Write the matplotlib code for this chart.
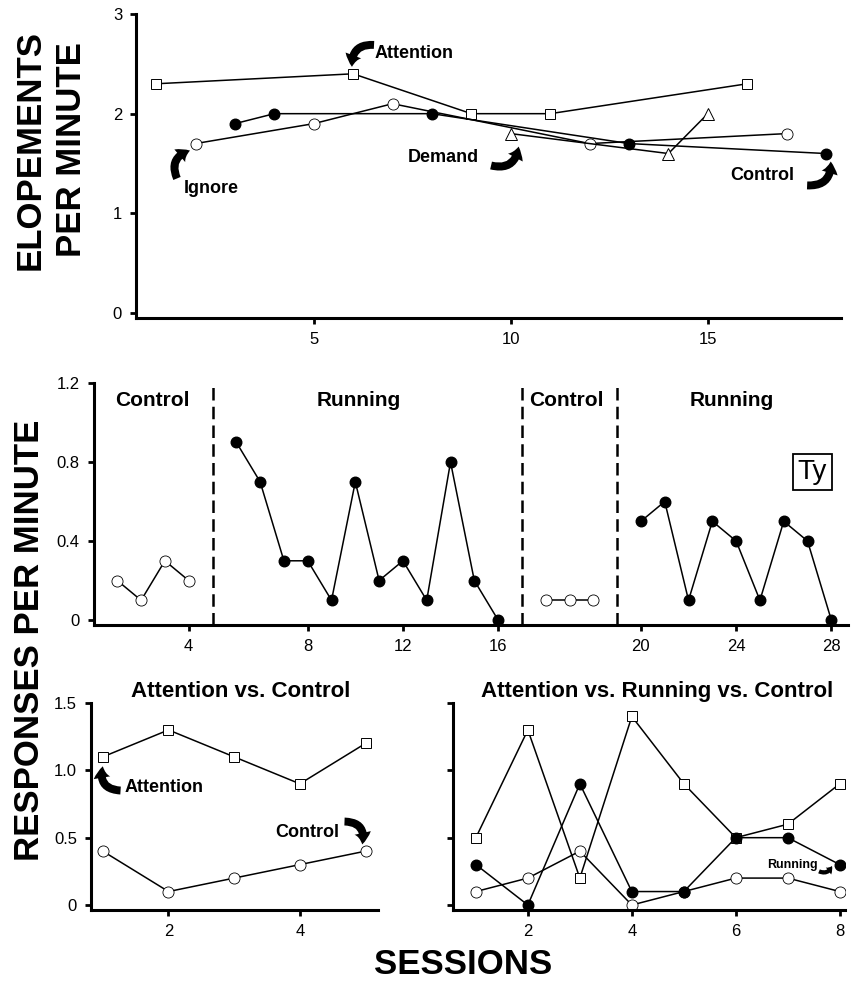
import matplotlib
matplotlib.use("Agg")
import matplotlib.pyplot as plt
from matplotlib.patches import FancyArrowPatch, ArrowStyle

plt.rcParams['font.family'] = ['Liberation Sans', 'DejaVu Sans']

# ---------------- data ----------------
# Top panel: elopements per minute (functional analysis)
top_attention_x = [1, 6, 9, 11, 16]
top_attention_y = [2.3, 2.4, 2.0, 2.0, 2.3]
top_ignore_x = [2, 5, 7, 12, 17]
top_ignore_y = [1.7, 1.9, 2.1, 1.7, 1.8]
top_control_x = [3, 4, 8, 13, 18]
top_control_y = [1.9, 2.0, 2.0, 1.7, 1.6]
top_demand_x = [10, 14, 15]
top_demand_y = [1.8, 1.6, 2.0]
top_xticks = [5, 10, 15]
top_yticks = [0, 1, 2, 3]

# Middle panel: reversal design (Ty)
mid_phase_names = ["Control", "Running", "Control", "Running"]
mid_phase_sessions = [[1, 2, 3, 4],
                      [5, 6, 7, 8, 9, 10, 11, 12, 13, 14, 15, 16],
                      [17, 18, 19],
                      [20, 21, 22, 23, 24, 25, 26, 27, 28]]
mid_phase_values = [[0.2, 0.1, 0.3, 0.2],
                    [0.9, 0.7, 0.3, 0.3, 0.1, 0.7, 0.2, 0.3, 0.1, 0.8, 0.2, 0.0],
                    [0.1, 0.1, 0.1],
                    [0.5, 0.6, 0.1, 0.5, 0.4, 0.1, 0.5, 0.4, 0.0]]
mid_phase_filled = [False, True, False, True]
mid_xticks = [4, 8, 12, 16, 20, 24, 28]
mid_yticks = [0, 0.4, 0.8, 1.2]
mid_ytick_labels = ["0", "0.4", "0.8", "1.2"]

# Bottom left: Attention vs. Control
bl_sessions = [1, 2, 3, 4, 5]
bl_attention = [1.1, 1.3, 1.1, 0.9, 1.2]
bl_control = [0.4, 0.1, 0.2, 0.3, 0.4]
bl_xticks = [2, 4]

# Bottom right: Attention vs. Running vs. Control
br_sessions = [1, 2, 3, 4, 5, 6, 7, 8]
br_attention = [0.5, 1.3, 0.2, 1.4, 0.9, 0.5, 0.6, 0.9]
br_running = [0.3, 0.0, 0.9, 0.1, 0.1, 0.5, 0.5, 0.3]
br_control = [0.1, 0.2, 0.4, 0.0, 0.1, 0.2, 0.2, 0.1]
br_xticks = [2, 4, 6, 8]
bottom_yticks = [0, 0.5, 1.0, 1.5]
bottom_ytick_labels = ["0", "0.5", "1.0", "1.5"]

# ---------------- styles ----------------
LW = 1.1
SQ = dict(marker='s', ms=7.2, mfc='white', mec='black', mew=0.7, color='black', lw=LW)
OC = dict(marker='o', ms=8, mfc='white', mec='black', mew=0.6, color='black', lw=LW)
FC = dict(marker='o', ms=7.6, mfc='black', mec='black', color='black', lw=LW)
TR = dict(marker='^', ms=9, mfc='white', mec='black', mew=0.7, color='black', lw=LW)

W, H = 851, 983
fig = plt.figure(figsize=(W / 100, H / 100), dpi=100)


def ax_at(left_px, right_px, top_px, bottom_px):
    return fig.add_axes([left_px / W, 1 - bottom_px / H,
                         (right_px - left_px) / W, (bottom_px - top_px) / H])


def style(ax):
    for s in ['top', 'right']:
        ax.spines[s].set_visible(False)
    for s in ['left', 'bottom']:
        ax.spines[s].set_linewidth(2.2)
    ax.tick_params(axis='both', direction='out', length=4, width=2,
                   labelsize=12, pad=6)


def curved_arrow(ax, start, end, rad, size=15):
    arr = FancyArrowPatch(start, end, connectionstyle=f"arc3,rad={rad}",
                          arrowstyle=ArrowStyle.Simple(head_length=0.55, head_width=0.8,
                                                       tail_width=0.38),
                          mutation_scale=size, color='black', lw=0,
                          shrinkA=0, shrinkB=0)
    ax.add_patch(arr)


# ---------------- top panel ----------------
ax1 = ax_at(136, 841, 14, 318)
style(ax1)
ax1.plot(top_attention_x, top_attention_y, **SQ)
ax1.plot(top_ignore_x, top_ignore_y, **OC)
ax1.plot(top_control_x, top_control_y, **FC)
ax1.plot(top_demand_x, top_demand_y, **TR)
ax1.set_xlim(0.49, 18.38)
ax1.set_ylim(-0.05, 3)
ax1.set_xticks(top_xticks)
ax1.set_yticks(top_yticks)
ax1.set_yticklabels([str(v) for v in top_yticks])

ax1.text(7.55, 2.6, "Attention", fontsize=13, fontweight='bold', ha='center', va='center')
curved_arrow(ax1, (6.53, 2.69), (5.97, 2.47), rad=0.55)
ax1.text(2.4, 1.25, "Ignore", fontsize=13, fontweight='bold', ha='center', va='center')
curved_arrow(ax1, (1.53, 1.35), (1.86, 1.63), rad=-0.55)
ax1.text(8.3, 1.56, "Demand", fontsize=13, fontweight='bold', ha='center', va='center')
curved_arrow(ax1, (9.5, 1.48), (10.2, 1.67), rad=0.55)
ax1.text(16.37, 1.38, "Control", fontsize=13, fontweight='bold', ha='center', va='center')
curved_arrow(ax1, (17.52, 1.28), (18.12, 1.52), rad=0.55)

# ---------------- middle panel ----------------
ax2 = ax_at(93.5, 848, 383, 625)
style(ax2)
boundaries = []
for i, (ss, vv, filled) in enumerate(zip(mid_phase_sessions, mid_phase_values, mid_phase_filled)):
    pos = [s + i for s in ss]
    ax2.plot(pos, vv, **(FC if filled else OC))
    if i > 0:
        boundaries.append(ss[0] + i - 1)
for b in boundaries:
    ax2.axvline(b, color='black', lw=1.8, ls=(0, (5, 2.5)))
centers = [2.46, 11.15, 19.85, 26.8]
for name, cx in zip(mid_phase_names, centers):
    ax2.text(cx, 1.11, name, fontsize=15, fontweight='bold', ha='center', va='center')


def mid_pos(s):
    for i, ss in enumerate(mid_phase_sessions):
        if ss[0] <= s <= ss[-1]:
            return s + i
    return s


ax2.set_xticks([mid_pos(s) for s in mid_xticks])
ax2.set_xticklabels([str(s) for s in mid_xticks])
ax2.set_yticks(mid_yticks)
ax2.set_yticklabels(mid_ytick_labels)
ax2.set_xlim(0, 31.7)
ax2.set_ylim(-0.025, 1.2)
ax2.text(30.2, 0.752, "Ty", fontsize=20, ha='center', va='center',
         bbox=dict(boxstyle='square,pad=0.18', fc='white', ec='black', lw=1.3))

# ---------------- bottom left ----------------
ax3 = ax_at(91, 378, 703, 910)
style(ax3)
ax3.plot(bl_sessions, bl_attention, **SQ)
ax3.plot(bl_sessions, bl_control, **OC)
ax3.set_xlim(0.82, 5.19)
ax3.set_ylim(-0.037, 1.5)
ax3.set_xticks(bl_xticks)
ax3.set_yticks(bottom_yticks)
ax3.set_yticklabels(bottom_ytick_labels)
ax3.set_title("Attention vs. Control", fontsize=16, fontweight='bold', pad=4, x=0.52)
ax3.text(1.93, 0.876, "Attention", fontsize=13, fontweight='bold', ha='center', va='center')
curved_arrow(ax3, (1.27, 0.85), (1.0, 1.03), rad=-0.6)
ax3.text(4.12, 0.54, "Control", fontsize=13, fontweight='bold', ha='center', va='center')
curved_arrow(ax3, (4.68, 0.62), (4.95, 0.45), rad=-0.6)

# ---------------- bottom right ----------------
ax4 = ax_at(453, 845, 703, 910)
style(ax4)
ax4.plot(br_sessions, br_attention, **SQ)
ax4.plot(br_sessions, br_control, **OC)
ax4.plot(br_sessions, br_running, **FC)
ax4.set_xlim(0.56, 8.1)
ax4.set_ylim(-0.037, 1.5)
ax4.set_xticks(br_xticks)
ax4.set_yticks(bottom_yticks)
ax4.set_yticklabels([])
ax4.set_title("Attention vs. Running vs. Control", fontsize=16, fontweight='bold', pad=4, x=0.52)
ax4.text(7.09, 0.30, "Running", fontsize=9, fontweight='bold', ha='center', va='center')
curved_arrow(ax4, (7.6, 0.25), (7.85, 0.29), rad=0.5, size=8)

# ---------------- big labels ----------------
fig.text(51 / W, 1 - 150 / H, "ELOPEMENTS\nPER MINUTE", rotation=90, fontsize=25,
         fontweight='bold', ha='center', va='center', multialignment='center', linespacing=1.3)
fig.text(30 / W, 1 - 640 / H, "RESPONSES PER MINUTE", rotation=90, fontsize=25,
         fontweight='bold', ha='center', va='center')
fig.text(463 / W, 1 - 965 / H, "SESSIONS", fontsize=25, fontweight='bold',
         ha='center', va='center')

fig.savefig("out.png", dpi=100, facecolor='white')
